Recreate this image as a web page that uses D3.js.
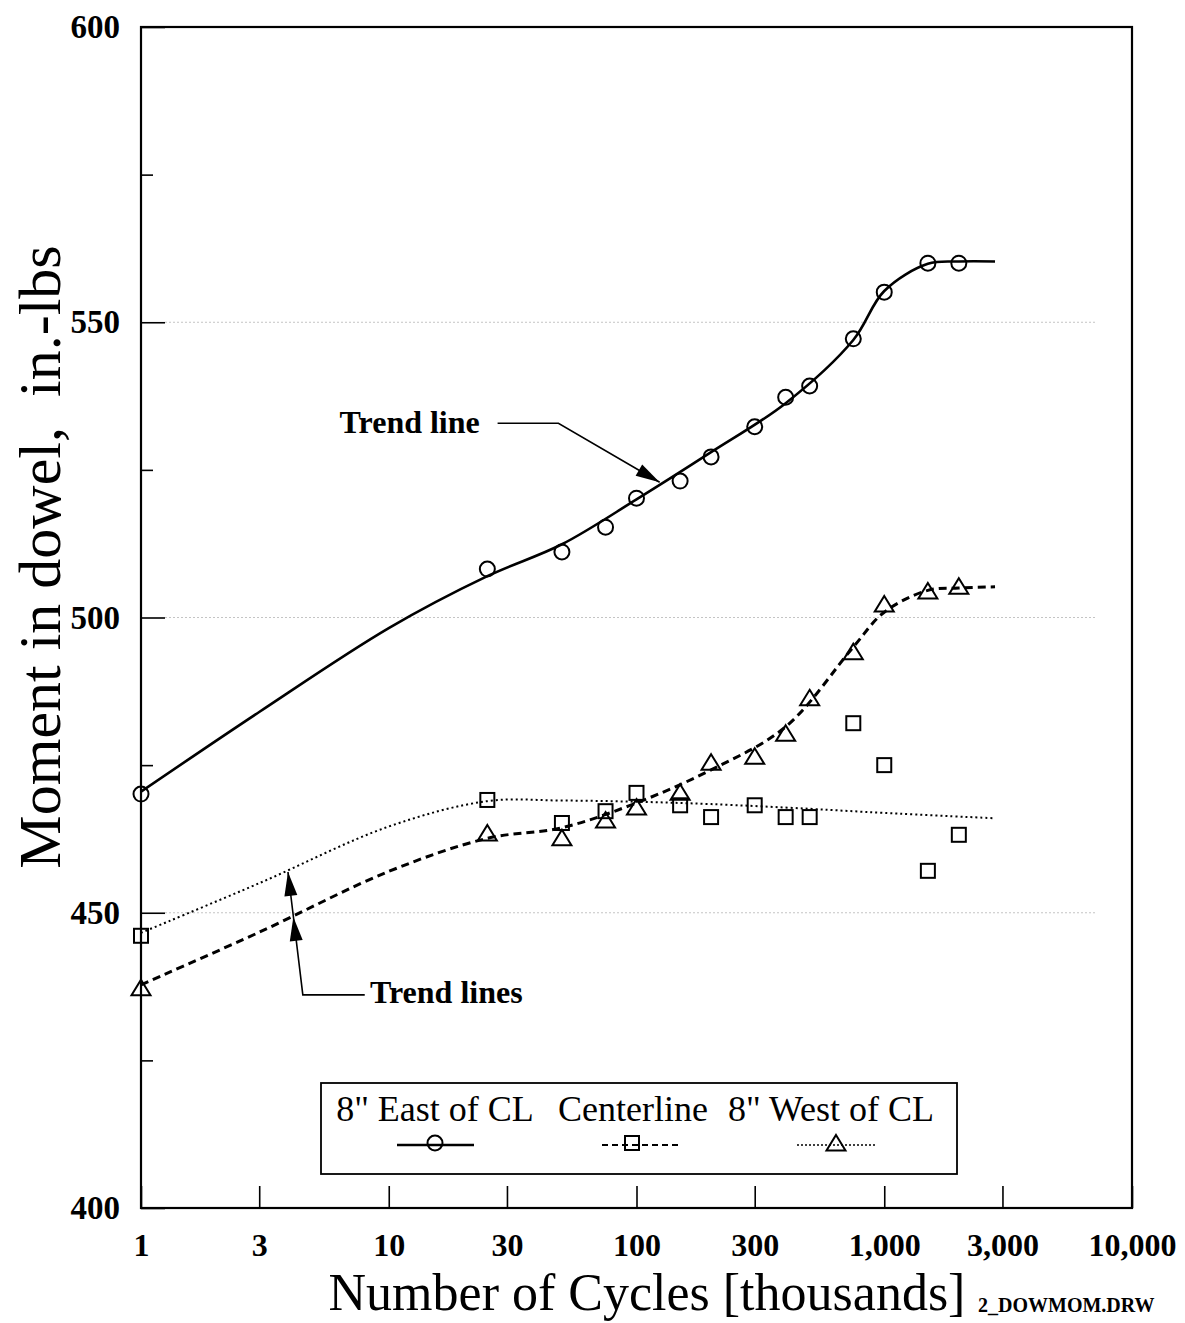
<!DOCTYPE html>
<html>
<head>
<meta charset="utf-8">
<script src="https://cdn.jsdelivr.net/npm/d3@7"></script>
<style>
  body { margin: 0; background: #fff; }
  text { font-family: "Liberation Serif", "Times New Roman", serif; fill: #000; }
</style>
</head>
<body>
<div id="chart"></div>
<script>
// measured points (thousands of cycles vs moment, in.-lbs)
const cycles = [1, 25, 50, 75, 100, 150, 200, 300, 400, 500, 750, 1000, 1500, 2000];
const eastCL = [470.1, 508.2, 511.1, 515.3, 520.2, 523.1, 527.2, 532.3, 537.3, 539.2, 547.2, 555.1, 560.0, 560.0];
const centerline = [446.1, 469.1, 465.2, 467.2, 470.3, 468.2, 466.2, 468.2, 466.2, 466.2, 482.1, 475.0, 457.1, 463.2];
const westCL = [437.3, 463.5, 462.7, 465.7, 467.9, 470.4, 475.5, 476.5, 480.4, 486.4, 494.2, 502.3, 504.5, 505.3];

// hand drawn trend lines
const eastTrendX = [1, 3, 10, 25, 50, 100, 200, 400, 750, 1000, 1500, 2000, 2800];
const eastTrend  = [470.5, 484.0, 498.2, 507.0, 512.4, 520.0, 528.0, 536.3, 547.0, 555.3, 559.9, 560.3, 560.3];
const squareTrendX = [1, 3, 10, 25, 50, 100, 200, 500, 1000, 2800];
const squareTrend  = [446.6, 455.0, 464.6, 468.9, 469.0, 468.8, 468.4, 467.6, 466.9, 466.0];
const triTrendX = [1, 3, 10, 25, 50, 100, 200, 400, 750, 1000, 1500, 2000, 2800];
const triTrend  = [437.8, 446.7, 457.0, 462.6, 464.4, 468.6, 474.2, 481.5, 495.0, 500.9, 504.6, 505.0, 505.2];

const xTicks = [1, 3, 10, 30, 100, 300, 1000, 3000, 10000];
const yTicks = [400, 450, 500, 550, 600];
const yMinor = [425, 475, 525, 575];
const gridValues = [450, 500, 550];

const W = 1185, H = 1323;
const margin = { top: 27, right: 53, bottom: 115, left: 141 };
const width = W - margin.left - margin.right;
const height = H - margin.top - margin.bottom;

const svg = d3.select("#chart").append("svg")
    .attr("width", W)
    .attr("height", H);

const g = svg.append("g")
    .attr("transform", `translate(${margin.left},${margin.top})`);

const x = d3.scaleLog().domain([1, 10000]).range([0, width]);
const y = d3.scaleLinear().domain([400, 600]).range([height, 0]);

// grid
g.selectAll(".grid")
    .data(gridValues)
    .enter().append("line")
    .attr("x1", 24).attr("x2", 1095 - margin.left)
    .attr("y1", d => y(d)).attr("y2", d => y(d))
    .attr("stroke", "#c4c4c4")
    .attr("stroke-width", 1)
    .attr("stroke-dasharray", "2,2");

// axes
const xAxis = g.append("g")
    .attr("transform", `translate(0,${height})`)
    .call(d3.axisBottom(x).tickValues(xTicks).tickFormat(d3.format(","))
        .tickSizeInner(-22).tickSizeOuter(0).tickPadding(25));
xAxis.selectAll("text").style("font-size", "32px").style("font-weight", "bold");

const yAxis = g.append("g")
    .call(d3.axisLeft(y).tickValues(yTicks)
        .tickSizeInner(-24).tickSizeOuter(0).tickPadding(21));
yAxis.selectAll("text").style("font-size", "33px").style("font-weight", "bold");

g.append("g")
    .call(d3.axisLeft(y).tickValues(yMinor).tickFormat("")
        .tickSizeInner(-12).tickSizeOuter(0));

g.selectAll(".domain").remove();
g.selectAll(".tick line").attr("stroke", "#000").attr("stroke-width", 1.6);

g.append("rect")
    .attr("width", width).attr("height", height)
    .attr("fill", "none")
    .attr("stroke", "#000")
    .attr("stroke-width", 2.2);

// trend lines
const line = d3.line()
    .x(d => x(d[0]))
    .y(d => y(d[1]))
    .curve(d3.curveCatmullRom.alpha(0.5));

const trends = [
    { xs: eastTrendX, vals: eastTrend, dash: null, w: 2.6 },
    { xs: squareTrendX, vals: squareTrend, dash: "2,3", w: 2 },
    { xs: triTrendX, vals: triTrend, dash: "8,5", w: 3 }
];
trends.forEach(t => {
    g.append("path")
        .datum(t.xs.map((c, i) => [c, t.vals[i]]))
        .attr("d", line)
        .attr("fill", "none")
        .attr("stroke", "#000")
        .attr("stroke-width", t.w)
        .attr("stroke-dasharray", t.dash);
});

// markers
const triPath = "M0,-8L9.5,7.5L-9.5,7.5Z";
function marker(sel, shape) {
    if (shape === "circle") {
        sel.append("circle").attr("r", 7.5);
    } else if (shape === "square") {
        sel.append("rect").attr("x", -7).attr("y", -7).attr("width", 14).attr("height", 14);
    } else {
        sel.append("path").attr("d", triPath);
    }
    sel.selectAll("circle,rect,path")
        .attr("fill", "none")
        .attr("stroke", "#000")
        .attr("stroke-width", 2);
}

const series = [
    { vals: eastCL, shape: "circle" },
    { vals: centerline, shape: "square" },
    { vals: westCL, shape: "triangle" }
];
series.forEach(s => {
    g.selectAll(null)
        .data(cycles.map((c, i) => [c, s.vals[i]]))
        .enter().append("g")
        .attr("transform", d => `translate(${x(d[0])},${y(d[1])})`)
        .each(function() { marker(d3.select(this), s.shape); });
});

// annotations, points in data units
function arrowHead(tip, from) {
    const [tx, ty] = [x(tip[0]), y(tip[1])];
    const [fx, fy] = [x(from[0]), y(from[1])];
    const a = Math.atan2(ty - fy, tx - fx);
    const len = 24, hw = 6.5;
    const bx = tx - len * Math.cos(a), by = ty - len * Math.sin(a);
    const px = -Math.sin(a) * hw, py = Math.cos(a) * hw;
    g.append("path")
        .attr("d", `M${tx},${ty}L${bx + px},${by + py}L${bx - px},${by - py}Z`)
        .attr("fill", "#000");
}

const leader1 = [[27.5, 532.9], [48.4, 532.9], [124, 522.9]];
g.append("path")
    .attr("d", d3.line().x(d => x(d[0])).y(d => y(d[1]))(leader1))
    .attr("fill", "none").attr("stroke", "#000").attr("stroke-width", 1.6);
arrowHead(leader1[2], leader1[1]);
g.append("text")
    .attr("x", x(23.3)).attr("y", y(531.2))
    .attr("text-anchor", "end")
    .style("font-size", "32px").style("font-weight", "bold")
    .text("Trend line");

const leader2 = [[8.0, 436.1], [4.5, 436.1], [3.92, 456.9]];
g.append("path")
    .attr("d", d3.line().x(d => x(d[0])).y(d => y(d[1]))(leader2))
    .attr("fill", "none").attr("stroke", "#000").attr("stroke-width", 1.6);
arrowHead(leader2[2], leader2[1]);
arrowHead([4.12, 449.3], leader2[1]);
g.append("text")
    .attr("x", x(8.4)).attr("y", y(434.7))
    .style("font-size", "32px").style("font-weight", "bold")
    .text("Trend lines");

// legend
const legend = svg.append("g");
legend.append("rect")
    .attr("x", 321).attr("y", 1083)
    .attr("width", 636).attr("height", 91)
    .attr("fill", "#fff")
    .attr("stroke", "#000")
    .attr("stroke-width", 1.8);

const legendItems = [
    { label: "8\" East of CL", cx: 435, mx: 435, shape: "circle", dash: null, w: 2.4, x0: 397, x1: 474 },
    { label: "Centerline", cx: 633, mx: 632, shape: "square", dash: "6,4", w: 2, x0: 602, x1: 680 },
    { label: "8\" West of CL", cx: 831, mx: 836, shape: "triangle", dash: "2,2", w: 1.6, x0: 797, x1: 877 }
];
legendItems.forEach(it => {
    legend.append("text")
        .attr("x", it.cx).attr("y", 1121)
        .attr("text-anchor", "middle")
        .style("font-size", "36px")
        .text(it.label);
    legend.append("line")
        .attr("x1", it.x0).attr("x2", it.x1)
        .attr("y1", 1145).attr("y2", 1145)
        .attr("stroke", "#000")
        .attr("stroke-width", it.w)
        .attr("stroke-dasharray", it.dash);
    const m = legend.append("g").attr("transform", `translate(${it.mx},1143)`);
    marker(m, it.shape);
});

// titles
svg.append("text")
    .attr("x", 647).attr("y", 1310)
    .attr("text-anchor", "middle")
    .style("font-size", "52px")
    .text("Number of Cycles [thousands]");

svg.append("text")
    .attr("transform", "translate(60,557) rotate(-90)")
    .attr("text-anchor", "middle")
    .style("font-size", "60px")
    .style("white-space", "pre")
    .text("Moment in dowel,  in.-lbs");

svg.append("text")
    .attr("x", 978).attr("y", 1312)
    .style("font-size", "20px").style("font-weight", "bold")
    .text("2_DOWMOM.DRW");
</script>
</body>
</html>
